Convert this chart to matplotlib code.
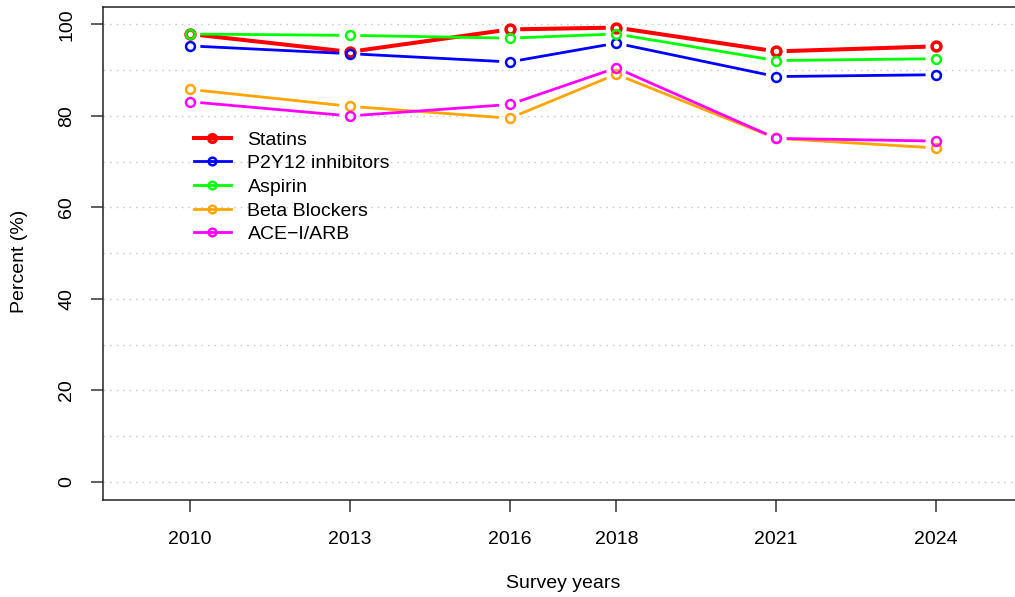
import numpy as np
import matplotlib
matplotlib.use("Agg")
import matplotlib.pyplot as plt
from matplotlib.lines import Line2D

plt.rcParams['font.family'] = ['Liberation Sans', 'DejaVu Sans']

years = [2010, 2013, 2016, 2018, 2021, 2024]
statins = [97.9, 94.0, 98.9, 99.3, 94.1, 95.2]
p2y12 = [95.3, 93.6, 91.8, 95.9, 88.6, 89.0]
aspirin = [97.9, 97.6, 97.0, 97.9, 92.1, 92.5]
beta_blockers = [85.8, 82.1, 79.5, 89.1, 75.1, 73.0]
ace_arb = [83.1, 80.0, 82.5, 90.5, 75.1, 74.5]

series_names = ["Statins", "P2Y12 inhibitors", "Aspirin", "Beta Blockers", "ACE\u2212I/ARB"]
series_values = [statins, p2y12, aspirin, beta_blockers, ace_arb]
colors = ["#FF0000", "#0000FF", "#00FF00", "#FFA500", "#FF00FF"]
line_widths = [2.9, 2.0, 2.0, 2.0, 2.0]
marker_edges = [2.5, 1.8, 1.8, 1.8, 1.8]
y_ticks = [0, 20, 40, 60, 80, 100]
y_grid = list(range(0, 101, 10))

W, H = 1015, 597
fig = plt.figure(figsize=(W / 100, H / 100), dpi=100)
left, right, top, bottom = 103, 1016, 7, 500
ax = fig.add_axes([left / W, 1 - bottom / H, (right - left) / W, (bottom - top) / H])
ax.set_xlim(2008.37, 2025.5)
ax.set_ylim(-3.93, 103.8)

for g in y_grid:
    ax.axhline(g, color="#cccccc", lw=1.0, linestyle=(0, (1.2, 3.5)), zorder=0)

fig.canvas.draw()
trans = ax.transData
inv = trans.inverted()
gap = 10.5

for name, vals, c, lw, mew in zip(series_names, series_values, colors, line_widths, marker_edges):
    pts = trans.transform(np.column_stack([years, vals]))
    for i in range(len(pts) - 1):
        p0, p1 = pts[i], pts[i + 1]
        d = p1 - p0
        L = np.hypot(*d)
        if L <= 2 * gap:
            continue
        u = d / L
        a = inv.transform(p0 + u * gap)
        b = inv.transform(p1 - u * gap)
        ax.plot([a[0], b[0]], [a[1], b[1]], color=c, lw=lw, solid_capstyle="butt", zorder=2)
    ax.plot(years, vals, linestyle="none", marker="o", markersize=6.4, mfc="none",
            mec=c, mew=mew, zorder=3)

ax.spines["right"].set_visible(False)
for s in ["left", "top", "bottom"]:
    ax.spines[s].set_color("#222222")
    ax.spines[s].set_linewidth(1.1)

ax.set_xticks(years)
ax.set_xticklabels([str(y) for y in years])
ax.set_yticks(y_ticks)
ax.set_yticklabels([str(v) for v in y_ticks], rotation=90, va="center")
ax.tick_params(axis="both", length=8.6, width=1.1, color="#333333", labelsize=14, direction="out")
ax.tick_params(axis="x", pad=13.5)
ax.tick_params(axis="y", pad=11.5)

fig.text(563 / W, 1 - 583 / H, "Survey years", ha="center", va="center", fontsize=14)
fig.text(20 / W, 1 - 261 / H, "Percent (%)", ha="center", va="center", fontsize=14, rotation=90)

handles = [Line2D([0], [0], color=c, lw=lw, marker="o", markersize=5.5, mfc="none", mec=c, mew=mew)
           for c, lw, mew in zip(colors, line_widths, marker_edges)]
leg = ax.legend(handles, series_names, loc="upper left",
                bbox_to_anchor=((194 - left) / (right - left), (bottom - 131) / (bottom - top)),
                frameon=False, fontsize=14, handlelength=1.9, handletextpad=0.85,
                labelspacing=0.31, borderpad=0, borderaxespad=0)

fig.savefig("out.png", dpi=100)
